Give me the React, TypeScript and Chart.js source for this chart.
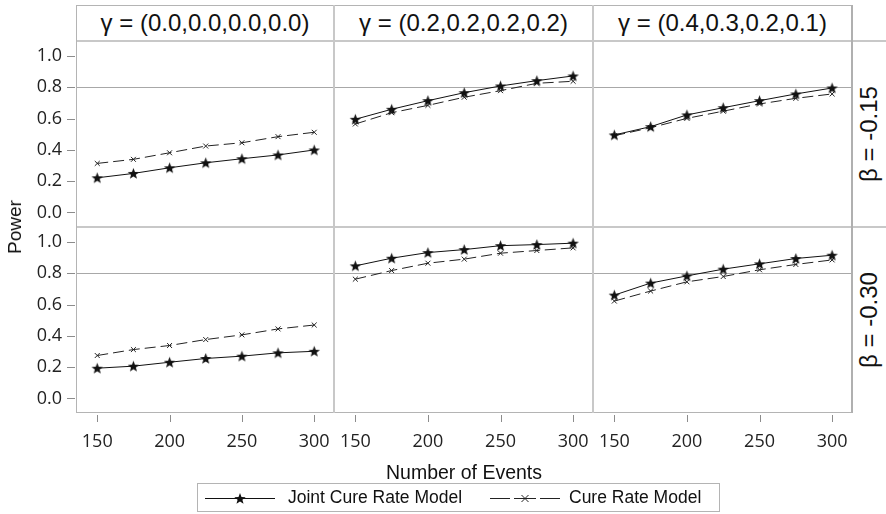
import React, { useEffect, useRef } from "react";
import { Chart, registerables } from "chart.js";
Chart.register(...registerables);

// ---------- data ----------
const events = [150, 175, 200, 225, 250, 275, 300];
const xTickValues = [150, 200, 250, 300];
const yTickValues = [0, 0.2, 0.4, 0.6, 0.8, 1.0];
const gammaLabels = ["γ = (0.0,0.0,0.0,0.0)", "γ = (0.2,0.2,0.2,0.2)", "γ = (0.4,0.3,0.2,0.1)"];
const betaLabels = ["β = -0.15", "β = -0.30"];
const seriesNames = ["Joint Cure Rate Model", "Cure Rate Model"];
const xTitle = "Number of Events";
const yTitle = "Power";

// beta = -0.15
const jointB15G0 = [0.221, 0.249, 0.285, 0.317, 0.343, 0.367, 0.399];
const cureB15G0 = [0.313, 0.339, 0.381, 0.424, 0.445, 0.484, 0.512];
const jointB15G2 = [0.595, 0.659, 0.714, 0.765, 0.808, 0.842, 0.872];
const cureB15G2 = [0.565, 0.637, 0.684, 0.736, 0.778, 0.825, 0.838];
const jointB15G4 = [0.495, 0.548, 0.623, 0.669, 0.714, 0.757, 0.795];
const cureB15G4 = [0.49, 0.541, 0.601, 0.647, 0.693, 0.729, 0.757];
// beta = -0.30
const jointB30G0 = [0.193, 0.206, 0.231, 0.255, 0.27, 0.291, 0.301];
const cureB30G0 = [0.274, 0.312, 0.338, 0.376, 0.406, 0.444, 0.469];
const jointB30G2 = [0.847, 0.896, 0.932, 0.951, 0.976, 0.983, 0.992];
const cureB30G2 = [0.762, 0.817, 0.864, 0.89, 0.928, 0.945, 0.962];
const jointB30G4 = [0.66, 0.737, 0.783, 0.826, 0.86, 0.894, 0.915];
const cureB30G4 = [0.622, 0.686, 0.745, 0.779, 0.822, 0.856, 0.885];

const panelData = [
  [
    [jointB15G0, cureB15G0],
    [jointB15G2, cureB15G2],
    [jointB15G4, cureB15G4],
  ],
  [
    [jointB30G0, cureB30G0],
    [jointB30G2, cureB30G2],
    [jointB30G4, cureB30G4],
  ],
];

// ---------- layout ----------
const colLeft = [77, 335, 594];
const colRight = [333, 592, 851];
const rowTop = [42, 228];
const rowBottom = [226, 412];
const Y_AXIS_W = 77;
const X_AXIS_H = 50;
const X_MIN = 136;
const X_MAX = 313;
const Y_MIN = -0.087;
const Y_MAX = 1.089;

const TICK_FONT = "'Open Sans', 'DejaVu Sans', sans-serif";
const TEXT_FONT = "'Liberation Sans', Arial, sans-serif";
const BORDER = "#b4b4b4";
const SEP = "#c8c8c8";
const TICK_COLOR = "#8c8c8c";

function makeStar(size: number) {
  const c = document.createElement("canvas");
  c.width = size;
  c.height = size;
  const g = c.getContext("2d")!;
  const cx = size / 2;
  const cy = size / 2 + 0.5;
  const R = size / 2 - 0.5;
  const r = R * 0.42;
  g.beginPath();
  for (let i = 0; i < 10; i++) {
    const a = -Math.PI / 2 + (i * Math.PI) / 5;
    const rad = i % 2 === 0 ? R : r;
    const px = cx + rad * Math.cos(a);
    const py = cy + rad * Math.sin(a);
    if (i === 0) g.moveTo(px, py);
    else g.lineTo(px, py);
  }
  g.closePath();
  g.fillStyle = "#111";
  g.fill();
  return c;
}

function makeTickMarks(showX: boolean, showY: boolean) {
  return {
    id: "tickMarks",
    afterDraw(chart: any) {
      const { ctx, chartArea, scales } = chart;
      ctx.save();
      ctx.fillStyle = TICK_COLOR;
      if (showX) {
        for (const t of scales.x.ticks) {
          const px = Math.round(scales.x.getPixelForValue(t.value));
          ctx.fillRect(px, Math.round(chartArea.bottom) + 3, 1, 7);
        }
      }
      if (showY) {
        for (const t of scales.y.ticks) {
          const py = Math.round(scales.y.getPixelForValue(t.value));
          ctx.fillRect(Math.round(chartArea.left) - 10, py, 8, 1);
        }
      }
      ctx.restore();
    },
  };
}

function Panel({ row, col }: { row: number; col: number }) {
  const ref = useRef<HTMLCanvasElement>(null);
  const left = col === 0 ? 0 : colLeft[col];
  const width = colRight[col] - left;
  const top = rowTop[row];
  const height = rowBottom[row] - top + (row === 1 ? X_AXIS_H : 0);
  useEffect(() => {
    const canvas = ref.current!;
    const [joint, cure] = panelData[row][col];
    const star = makeStar(13);
    const chart = new Chart(canvas, {
      type: "line",
      data: {
        datasets: [
          {
            label: seriesNames[0],
            data: events.map((x, i) => ({ x, y: joint[i] })),
            borderColor: "#111",
            borderWidth: 1,
            pointStyle: star as any,
            pointRadius: 6,
            fill: false,
          },
          {
            label: seriesNames[1],
            data: events.map((x, i) => ({ x, y: cure[i] })),
            borderColor: "#222",
            borderWidth: 1,
            borderDash: [11, 5],
            pointStyle: "crossRot",
            pointRadius: 3.5,
            pointBorderWidth: 1,
            fill: false,
          },
        ],
      },
      options: {
        responsive: false,
        animation: false,
        events: [],
        layout: { padding: 0, autoPadding: false },
        clip: false as any,
        plugins: {
          legend: { display: false },
          tooltip: { enabled: false },
        },
        scales: {
          x: {
            type: "linear",
            min: X_MIN,
            max: X_MAX,
            display: row === 1,
            afterBuildTicks: (s: any) => {
              s.ticks = xTickValues.map((v) => ({ value: v }));
            },
            afterFit: (s: any) => {
              s.height = row === 1 ? X_AXIS_H : 0;
              s.paddingLeft = 0;
              s.paddingRight = 0;
            },
            grid: { display: false, drawTicks: false },
            border: { display: false },
            ticks: {
              autoSkip: false,
              padding: 19,
              color: "#222",
              font: { family: TICK_FONT, size: 18 },
              maxRotation: 0,
              callback: (v: any) => String(v),
            },
          },
          y: {
            type: "linear",
            min: Y_MIN,
            max: Y_MAX,
            afterBuildTicks: (s: any) => {
              s.ticks = yTickValues.map((v) => ({ value: v }));
            },
            afterFit: (s: any) => {
              s.width = col === 0 ? Y_AXIS_W : 0;
              s.paddingTop = 0;
              s.paddingBottom = 0;
            },
            grid: {
              drawTicks: false,
              color: (ctx: any) =>
                ctx.tick && Math.abs(ctx.tick.value - 0.8) < 1e-6 ? "#a8a8a8" : "rgba(0,0,0,0)",
              lineWidth: 1,
            },
            border: { display: false },
            ticks: {
              display: col === 0,
              autoSkip: false,
              padding: 15,
              color: "#222",
              font: { family: TICK_FONT, size: 18 },
              callback: (v: any) => Number(v).toFixed(1),
            },
          },
        },
      },
      plugins: [makeTickMarks(row === 1, col === 0) as any],
    });
    return () => chart.destroy();
  }, [row, col]);
  return (
    <canvas
      ref={ref}
      width={width}
      height={height}
      style={{ position: "absolute", left, top, width, height, display: "block" }}
    />
  );
}

function Line({ x, y, w, h, c }: { x: number; y: number; w: number; h: number; c: string }) {
  return <div style={{ position: "absolute", left: x, top: y, width: w, height: h, background: c }} />;
}

function StarIcon() {
  const pts: string[] = [];
  for (let i = 0; i < 10; i++) {
    const a = -Math.PI / 2 + (i * Math.PI) / 5;
    const rad = i % 2 === 0 ? 6 : 2.5;
    pts.push(`${35 + rad * Math.cos(a)},${15 + rad * Math.sin(a)}`);
  }
  return (
    <svg width="70" height="28" style={{ position: "absolute", left: 7, top: 0 }}>
      <line x1="0" y1="14.5" x2="70" y2="14.5" stroke="#111" strokeWidth="1" />
      <polygon points={pts.join(" ")} fill="#111" />
    </svg>
  );
}

function CrossIcon() {
  return (
    <svg width="70" height="28" style={{ position: "absolute", left: 292, top: 0 }}>
      <line x1="0" y1="14.5" x2="20" y2="14.5" stroke="#222" strokeWidth="1" />
      <line x1="24" y1="14.5" x2="46" y2="14.5" stroke="#222" strokeWidth="1" />
      <line x1="50" y1="14.5" x2="70" y2="14.5" stroke="#222" strokeWidth="1" />
      <line x1="31.5" y1="11" x2="38.5" y2="18" stroke="#222" strokeWidth="1" />
      <line x1="38.5" y1="11" x2="31.5" y2="18" stroke="#222" strokeWidth="1" />
    </svg>
  );
}

export default function App() {
  const panels = [];
  for (let r = 0; r < 2; r++) for (let c = 0; c < 3; c++) panels.push(<Panel key={`${r}-${c}`} row={r} col={c} />);
  return (
    <div
      style={{
        position: "absolute",
        left: 0,
        top: 0,
        width: 886,
        height: 514,
        background: "#fff",
        fontFamily: TEXT_FONT,
        color: "#111",
        overflow: "hidden",
      }}
    >
      {panels}
      {/* header cells */}
      {gammaLabels.map((g, i) => (
        <div
          key={g}
          style={{
            position: "absolute",
            left: colLeft[i],
            top: 6,
            width: colRight[i] - colLeft[i],
            height: 34,
            display: "flex",
            alignItems: "center",
            justifyContent: "center",
            fontSize: 24,
            whiteSpace: "nowrap",
          }}
        >
          {g}
        </div>
      ))}
      {/* strip labels */}
      {betaLabels.map((b, i) => (
        <div
          key={b}
          style={{
            position: "absolute",
            left: 869,
            top: (rowTop[i] + rowBottom[i]) / 2,
            transform: "translate(-50%, -50%) rotate(-90deg)",
            fontSize: 24,
            whiteSpace: "nowrap",
          }}
        >
          {b}
        </div>
      ))}
      {/* frame lines */}
      <Line x={76} y={5} w={776} h={1} c={BORDER} />
      <Line x={76} y={40} w={810} h={2} c={SEP} />
      <Line x={76} y={226} w={810} h={2} c={SEP} />
      <Line x={76} y={412} w={776} h={1} c={BORDER} />
      <Line x={76} y={5} w={1} h={408} c={BORDER} />
      <Line x={333} y={5} w={2} h={408} c={SEP} />
      <Line x={592} y={5} w={2} h={408} c={SEP} />
      <Line x={851} y={5} w={2} h={408} c={"#b0b0b0"} />
      {/* axis titles */}
      <div
        style={{
          position: "absolute",
          left: 15,
          top: 227,
          transform: "translate(-50%, -50%) rotate(-90deg)",
          fontSize: 19,
          whiteSpace: "nowrap",
        }}
      >
        {yTitle}
      </div>
      <div
        style={{
          position: "absolute",
          left: 464,
          top: 472,
          transform: "translate(-50%, -50%)",
          fontSize: 19.5,
          whiteSpace: "nowrap",
        }}
      >
        {xTitle}
      </div>
      {/* legend */}
      <div
        style={{
          position: "absolute",
          left: 197,
          top: 483,
          width: 521,
          height: 27,
          border: `1px solid ${BORDER}`,
        }}
      >
        <StarIcon />
        <div style={{ position: "absolute", left: 90, top: 3, fontSize: 17.5, whiteSpace: "nowrap" }}>{seriesNames[0]}</div>
        <CrossIcon />
        <div style={{ position: "absolute", left: 371, top: 3, fontSize: 17.5, whiteSpace: "nowrap" }}>{seriesNames[1]}</div>
      </div>
    </div>
  );
}
